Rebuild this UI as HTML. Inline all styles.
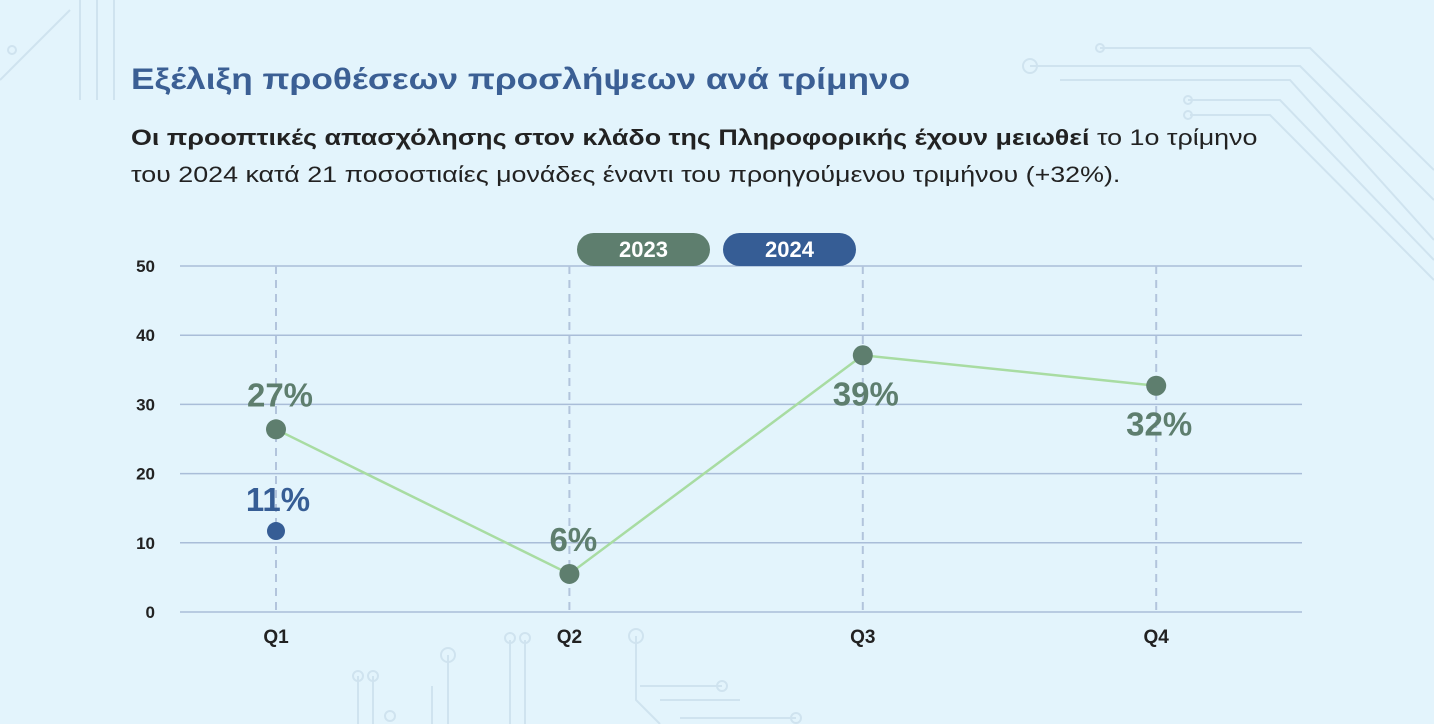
<!DOCTYPE html>
<html><head><meta charset="utf-8">
<style>
body{margin:0;width:1434px;height:724px;overflow:hidden;background:#e3f4fc;font-family:"Liberation Sans","DejaVu Sans",sans-serif;position:relative}
#title{position:absolute;left:131px;top:63px;font-size:30px;font-weight:bold;color:#3b5f94;margin:0;white-space:nowrap;transform-origin:0 0;transform:scaleX(1.175)}
#sub{position:absolute;left:131px;top:119px;font-size:22px;line-height:37px;color:#222;white-space:nowrap;transform-origin:0 0;transform:scaleX(1.22)}
svg{position:absolute;left:0;top:0}
</style></head><body>
<svg width="1434" height="724">
 <g stroke="#cfe3ef" stroke-width="2" fill="none">
  <path d="M0 80 L70 10"/><circle cx="12" cy="50" r="4"/>
  <path d="M80 0 V100 M97 0 V100 M114 0 V100"/>
  <path d="M1030 66 H1300 L1434 200"/><circle cx="1030" cy="66" r="7"/>
  <path d="M1100 48 H1310 L1434 170"/><circle cx="1100" cy="48" r="4"/>
  <path d="M1060 80 H1290 L1434 240"/><path d="M1188 100 H1280 L1434 260"/><circle cx="1188" cy="100" r="4"/><circle cx="1188" cy="115" r="4"/>
  <path d="M1190 115 H1270 L1434 280"/>
  <path d="M510 640 V724 M525 640 V724"/><circle cx="510" cy="638" r="5"/><circle cx="525" cy="638" r="5"/>
  <path d="M636 636 V700 L660 724"/><circle cx="636" cy="636" r="7"/>
  <path d="M448 655 V724"/><circle cx="448" cy="655" r="7"/>
  <path d="M358 676 V724 M373 676 V724 M432 686 V724"/><circle cx="358" cy="676" r="5"/><circle cx="373" cy="676" r="5"/>
  <path d="M640 686 H722 M660 700 H740 M680 718 H796"/><circle cx="722" cy="686" r="5"/><circle cx="796" cy="718" r="5"/><circle cx="390" cy="716" r="5"/>
 </g>
</svg>
<h1 id="title">Εξέλιξη προθέσεων προσλήψεων ανά τρίμηνο</h1>
<div id="sub"><b>Οι προοπτικές απασχόλησης στον κλάδο της Πληροφορικής έχουν μειωθεί</b> το 1ο τρίμηνο<br>του 2024 κατά 21 ποσοστιαίες μονάδες έναντι του προηγούμενου τριμήνου (+32%).</div>
<svg id="chart" width="1434" height="724"></svg>
<script>
const categories=["Q1","Q2","Q3","Q4"];
const values2023=[26.4,5.5,37.1,32.7];
const labels2023=["27%","6%","39%","32%"];
const labelAbove2023=[true,true,false,false];
const values2024=[11.7];
const labels2024=["11%"];
const yTicks=[0,10,20,30,40,50];
const legendItems=["2023","2024"];

const NS="http://www.w3.org/2000/svg";
const svg=document.getElementById('chart');
const x0=276,dx=293.4,y0=612,yTop=266,yMax=50;
const X=i=>x0+i*dx;
const Y=v=>y0-(v/yMax)*(y0-yTop);
function mk(t,a,p){const e=document.createElementNS(NS,t);for(const k in a)e.setAttribute(k,a[k]);(p||svg).appendChild(e);return e;}
yTicks.forEach(t=>{
 const l=mk('line',{x1:180,x2:1302,y1:Y(t),y2:Y(t),stroke:'#a9bdd8','stroke-width':1.5});
 
 
 const tx=mk('text',{x:155,y:Y(t)+6,'text-anchor':'end','font-size':17,'font-weight':'bold',fill:'#222'});
 tx.textContent=t;
 
 
});
categories.forEach((c,i)=>{
 const l=mk('line',{x1:X(i),x2:X(i),y1:yTop,y2:y0,stroke:'#b2c4dc','stroke-width':2,'stroke-dasharray':'8 6'});
 
 
 const t=mk('text',{x:X(i),y:643,'text-anchor':'middle','font-size':19,'font-weight':'bold',fill:'#222'});
 t.textContent=c;
 
 
});
const line=mk('polyline',{points:values2023.map((v,i)=>X(i)+','+Y(v)).join(' '),fill:'none',stroke:'#a8dca2','stroke-width':2.5});


values2023.forEach((v,i)=>{
 const c=mk('circle',{cx:X(i),cy:Y(v),r:10,fill:'#5e7e6e'});
 
 
 const ty=labelAbove2023[i]?Y(v)-23:Y(v)+50;
 const t=mk('text',{x:X(i)+(labelAbove2023[i]?4:3),y:ty,'text-anchor':'middle','font-size':33,'font-weight':'bold',fill:'#5e7e6e'});
 t.textContent=labels2023[i];
 
 
});
values2024.forEach((v,i)=>{
 const c=mk('circle',{cx:X(i),cy:Y(v),r:9,fill:'#365d95'});
 
 
 const t=mk('text',{x:X(i)+2,y:Y(v)-20,'text-anchor':'middle','font-size':33,'font-weight':'bold',fill:'#365d95'});
 t.textContent=labels2024[i];
 
 
});
const legColors=['#5e7e6e','#365d95'];
legendItems.forEach((s,i)=>{
 const g=mk('g',{});
 
 
 const lx=577+i*146;
 mk('rect',{x:lx,y:233,width:133,height:33,rx:16.5,fill:legColors[i]},g);
 const t=mk('text',{x:lx+66.5,y:257,'text-anchor':'middle','font-size':22,'font-weight':'bold',fill:'#fff'},g);
 t.textContent=s;
});
</script>
</body></html>
